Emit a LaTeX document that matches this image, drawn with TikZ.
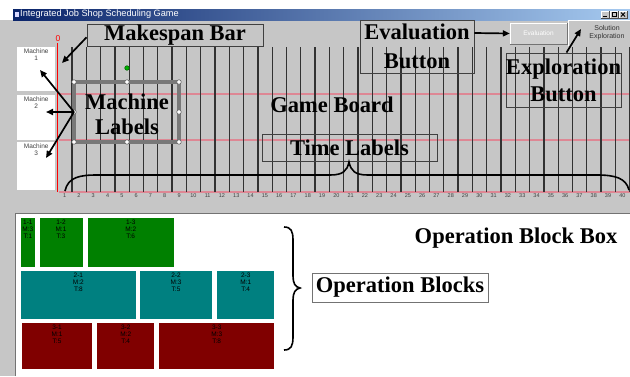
\documentclass[tikz,border=0pt]{standalone}
\usepackage{fontspec}
\setmainfont{Liberation Serif}
\newfontfamily\uifont{Liberation Sans}
\usetikzlibrary{arrows.meta,calc}
\definecolor{bg}{RGB}{198,198,198}
\definecolor{gridcol}{RGB}{50,50,50}
\definecolor{rowcol}{RGB}{222,135,148}
\definecolor{jobA}{RGB}{0,128,0}
\definecolor{jobB}{RGB}{0,128,128}
\definecolor{jobC}{RGB}{128,0,0}
\definecolor{tbdark}{RGB}{10,36,106}
\definecolor{tblight}{RGB}{166,202,240}
\definecolor{selgray}{RGB}{120,120,120}
\begin{document}
\begin{tikzpicture}[x=1pt,y=-1pt,
  annfont/.style={font=\bfseries\fontsize{22.5}{26}\selectfont},
  annbox/.style={draw=black!75, line width=0.9pt, inner sep=0pt, annfont, align=center},
  annarrow/.style={-{Triangle[length=7pt,width=6pt]}, line width=1.7pt, black},
  mlabel/.style={fill=white, minimum width=38pt, anchor=north west, inner sep=0pt},
  mtext/.style={font=\uifont\fontsize{6.5}{7}\selectfont, text=black!75, align=center, anchor=north, inner sep=0pt},
  tlabel/.style={font=\uifont\fontsize{5.5}{6}\selectfont, text=black!75, inner sep=0pt},
  opblk/.style={anchor=north west, inner sep=0pt, minimum height=49pt},
  blktxt/.style={font=\uifont\fontsize{6.5}{7}\selectfont, text=black, align=center, anchor=north, inner sep=0pt},
  handle/.style={circle, draw=black!60, fill=white, inner sep=0pt, minimum size=4.5pt, line width=0.6pt},
  bracestyle/.style={line width=1.6pt, black}
]
\useasboundingbox (0,0) rectangle (630,376);
\fill[white] (0,0) rectangle (630,376);
% window body
\fill[bg] (0,20) rectangle (630,376);
% title bar
\shade[left color=tbdark, right color=tblight] (13,9) rectangle (630,20);
\fill[white!85!blue] (14.5,11.5) rectangle (18.5,17);
\node[anchor=west, text=white, font=\uifont\fontsize{9.2}{10}\selectfont, inner sep=0pt] (title) at (20,14.5) {Integrated Job Shop Scheduling Game};
% window control buttons
\foreach \bx in {601,610,619} {
  \fill[bg] (\bx,11) rectangle (\bx+8,18);
  \draw[white, line width=0.5pt] (\bx,18) -- (\bx,11) -- (\bx+8,11);
  \draw[black!70, line width=0.5pt] (\bx,18) -- (\bx+8,18) -- (\bx+8,11);
}
\draw[black, line width=1pt] (603,16.5) -- (606.5,16.5);
\draw[black, line width=0.6pt] (612,12.5) rectangle (616,16.5);
\draw[black, line width=0.9pt] (621,12.5) -- (625,16.5) (625,12.5) -- (621,16.5);
% grid
\fill[rowcol] (59,92.5) rectangle (630,94.7);
\fill[rowcol] (59,139) rectangle (630,141.2);
\fill[rowcol] (59,190.5) rectangle (630,192.7);
\foreach \i in {1,...,40} {
  \fill[gridcol] (57+14.3*\i,47) rectangle (58.3+14.3*\i,192);
}
\foreach \i in {1,...,40} {
  \node[tlabel] (tl\i) at (57.5+14.3*\i-7.15,195.5) {\i};
}
% machine labels
\node[mlabel, minimum height=44pt] (m1) at (17,47) {};
\node[mlabel, minimum height=45pt] (m2) at (17,95) {};
\node[mlabel, minimum height=48pt] (m3) at (17,142) {};
\node[mtext] (m1t) at ([yshift=-2pt]m1.north) {Machine\\1};
\node[mtext] (m2t) at ([yshift=-2pt]m2.north) {Machine\\2};
\node[mtext] (m3t) at ([yshift=-2pt]m3.north) {Machine\\3};
% makespan bar
\draw[red, line width=1.8pt] (57.5,43) -- (57.5,192);
\node[text=red, font=\uifont\fontsize{8.5}{9}\selectfont, inner sep=0pt] (zero) at (58,39) {0};
% buttons
\node[draw=white, fill=bg!85!white, minimum width=57pt, minimum height=21pt, inner sep=0pt,
      font=\uifont\fontsize{6.5}{7}\selectfont, text=white] (evbtn) at (538.5,33.5) {Evaluation};
\draw[black!55, line width=0.6pt] (evbtn.south west) -- (evbtn.south east) -- (evbtn.north east);
\node[fill=bg, minimum width=62pt, minimum height=26pt, inner sep=0pt] (sebtn) at (599,33) {};
\draw[white, line width=0.6pt] (sebtn.south west) -- (sebtn.north west) -- (sebtn.north east);
\node[font=\uifont\fontsize{7}{8}\selectfont, text=black!80, align=center, inner sep=0pt] (setxt) at (607,33) {Solution\\Exploration};
% annotation boxes
\node[annbox, fill=bg, minimum width=176pt, minimum height=22.7pt] (mk) at (175,35.3) {Makespan Bar};
\node[annbox, minimum width=114pt, minimum height=53pt, font=\bfseries\fontsize{22.5}{29}\selectfont] (ev) at (417,46.5) {Evaluation\\Button};
\node[annbox, minimum width=115pt, minimum height=54pt, font=\bfseries\fontsize{22.5}{27}\selectfont] (ex) at (563.5,80) {Exploration\\Button};
\node[annbox, minimum width=175pt, minimum height=27pt] (tlbox) at (349.5,147.5) {Time Labels};
\node[annfont, inner sep=0pt] (gb) at (332,105) {Game Board};
% machine labels selection box
\draw[selgray, line width=3.2pt] (74,82) rectangle (179,142);
\node[annfont, align=center, inner sep=0pt, font=\bfseries\fontsize{22.5}{25}\selectfont] (ml) at (127,114) {Machine\\Labels};
\coordinate (mlw) at (74,112);
\foreach \hx/\hy [count=\k] in {74/82,127/82,179/82,74/112,179/112,74/142,127/142,179/142} {
  \node[handle] (h\k) at (\hx,\hy) {};
}
\node[handle, fill=green!70!black, draw=green!40!black] (rot) at (127,68) {};
% arrows
\coordinate (mkend) at (62,63);
\draw[annarrow] ([yshift=-2pt]mk.west) -- (mkend);
\draw[annarrow] ([yshift=13.5pt]ev.east) -- (evbtn.west);
\coordinate (setip) at (581,29);
\draw[annarrow] ([xshift=3pt]ex.north) -- (setip);
\coordinate (ma1) at (40,70);
\coordinate (ma2) at (46,112);
\coordinate (ma3) at (46,158);
\draw[annarrow] (mlw) -- (ma1);
\draw[annarrow] (mlw) -- (ma2);
\draw[annarrow] (mlw) -- (ma3);
% time label brace
\draw[bracestyle] (65,191) .. controls (68,177) and (80,175) .. (97,175) -- (330,175)
  .. controls (343,175) and (347,171) .. (349,162)
  .. controls (351,171) and (355,175) .. (368,175) -- (597,175)
  .. controls (615,175) and (626,178) .. (629,190);
% lower panel
\fill[white] (15,213) rectangle (630,376);
\draw[black!55, line width=0.8pt] (15,376) -- (15,213) -- (630,213);
% operation blocks
\node[opblk, fill=jobA, minimum width=14pt] (b11) at (20.7,218) {};
\node[opblk, fill=jobA, minimum width=43pt] (b12) at (39.3,218) {};
\node[opblk, fill=jobA, minimum width=85.6pt] (b13) at (87.7,218) {};
\node[opblk, fill=jobB, minimum width=115pt, minimum height=48pt] (b21) at (20.7,271) {};
\node[opblk, fill=jobB, minimum width=71.7pt, minimum height=48pt] (b22) at (140,271) {};
\node[opblk, fill=jobB, minimum width=57pt, minimum height=48pt] (b23) at (217,271) {};
\node[opblk, fill=jobC, minimum width=70.3pt, minimum height=46pt] (b31) at (21.7,323) {};
\node[opblk, fill=jobC, minimum width=57pt, minimum height=46pt] (b32) at (97,323) {};
\node[opblk, fill=jobC, minimum width=115pt, minimum height=46pt] (b33) at (159,323) {};
\node[blktxt] (t11) at ([yshift=-2pt]b11.north) {1-1\\M:3\\T:1};
\node[blktxt] (t12) at ([yshift=-2pt]b12.north) {1-2\\M:1\\T:3};
\node[blktxt] (t13) at ([yshift=-2pt]b13.north) {1-3\\M:2\\T:6};
\node[blktxt] (t21) at ([yshift=-2pt]b21.north) {2-1\\M:2\\T:8};
\node[blktxt] (t22) at ([yshift=-2pt]b22.north) {2-2\\M:3\\T:5};
\node[blktxt] (t23) at ([yshift=-2pt]b23.north) {2-3\\M:1\\T:4};
\node[blktxt] (t31) at ([yshift=-2pt]b31.north) {3-1\\M:1\\T:5};
\node[blktxt] (t32) at ([yshift=-2pt]b32.north) {3-2\\M:2\\T:4};
\node[blktxt] (t33) at ([yshift=-2pt]b33.north) {3-3\\M:3\\T:8};
% operation blocks brace
\draw[bracestyle] (284,227) .. controls (291,227) and (293,231) .. (293,240) -- (293,276)
  .. controls (293,283) and (295,287) .. (300,288)
  .. controls (295,289) and (293,293) .. (293,300) -- (293,337)
  .. controls (293,346) and (291,350) .. (284,350);
\node[annbox, draw=black!55, line width=0.7pt, fill=white, minimum width=176pt, minimum height=29pt] (obl) at (400,287.5) {Operation Blocks};
\node[annfont, inner sep=0pt] (obb) at (516,238) {Operation Block Box};
\end{tikzpicture}
\end{document}
